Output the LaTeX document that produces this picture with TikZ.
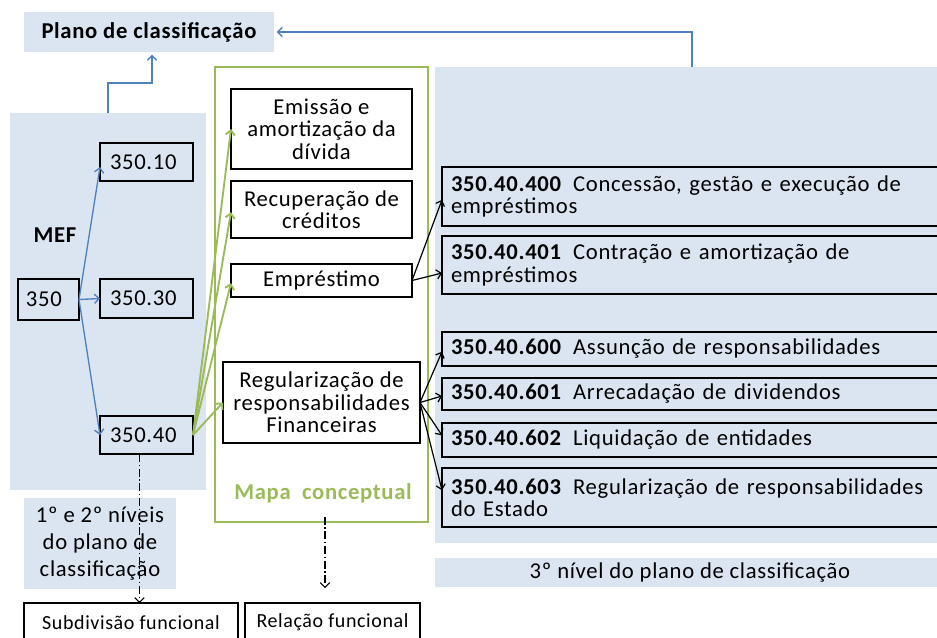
\documentclass[tikz,border=0pt]{standalone}
\usepackage{fontspec}
\setmainfont{Carlito}[LetterSpace=3]
\usetikzlibrary{arrows.meta,calc}
\definecolor{bgb}{HTML}{DBE5F1}
\definecolor{arb}{HTML}{4F81BD}
\definecolor{grn}{HTML}{9BBB59}
\newcommand\fsz{\fontsize{17pt}{16.75pt}\selectfont}
\tikzset{
  R/.style n args={4}{anchor=north west, at={(#1,#2)},
    minimum width={(#3-#1)*0.75pt}, minimum height={(#4-#2)*0.75pt},
    inner sep=0pt, outer sep=0pt},
  bx/.style={draw=black, line width=1pt},
  wbx/.style={draw=black, line width=1pt, fill=white, align=center},
  barr/.style={draw=arb, line width=1pt, -{Straight Barb[length=3.5pt,width=7pt]}},
  garr/.style={draw=grn, line width=1.4pt, -{Straight Barb[length=3.5pt,width=7pt]}},
  karr/.style={draw=black, line width=0.9pt, -{Straight Barb[length=3.5pt,width=7pt]}},
  ddarr/.style={draw=black, line width=0.8pt, dash pattern=on 6pt off 2pt on 1pt off 2pt, -{Straight Barb[length=3.5pt,width=7pt]}},
  every node/.append style={font=\fsz, text=black}
}
\begin{document}
\begin{tikzpicture}[x=0.75pt,y=-0.75pt]
\useasboundingbox (0,0) rectangle (937,637);
\clip (0,0) rectangle (937,637);
% panels
\node[R={10}{113}{206}{490}, fill=bgb] (panelL) {};
\node[R={435}{67}{945}{543}, fill=bgb] (panelR) {};
\node[R={215}{67}{428}{522}, draw=grn, line width=1.1pt] (mapa) {};
\node[R={24}{12}{274}{52}, fill=bgb, font=\fsz\bfseries] (plano) {Plano de classificação};
\node[R={435}{558}{945}{587}, fill=bgb] (lab3) {3º nível do plano de classificação};
\node[R={24}{498}{176}{589}, fill=bgb, align=center, font=\fontsize{17pt}{20pt}\selectfont] (niveis) {1º e 2º níveis\\do plano de\\classificação};
\node[font=\fsz\bfseries] (mef) at (55,235) {MEF};
\node[font=\fsz\bfseries, text=grn] (maptxt) at (323,493) {Mapa\enspace conceptual};
% left boxes
\node[bx, R={18}{279}{79}{320}, inner xsep=6pt, text width=33.75pt, align=left] (b350) {350};
\node[bx, R={100}{143}{193}{181}, inner xsep=7.5pt, text width=54.75pt, align=left] (b10) {350.10};
\node[bx, R={100}{279}{193}{318}, inner xsep=7.5pt, text width=54.75pt, align=left] (b30) {350.30};
\node[bx, R={100}{416}{193}{454}, inner xsep=7.5pt, text width=54.75pt, align=left] (b40) {350.40};
% concept boxes
\node[wbx, R={231}{89}{412}{169}] (emis) {Emissão e\\amortização da\\dívida};
\node[wbx, R={231}{181}{412}{238}] (recu) {Recuperação de\\créditos};
\node[wbx, R={231}{264}{412}{297}] (empr) {Empréstimo};
\node[wbx, R={223}{362}{420}{443}] (regu) {Regularização de\\responsabilidades\\Financeiras};
% right boxes
\tikzset{rb/.style={bx, inner xsep=6.75pt, text width=363.75pt, align=left}}
\node[rb, R={442}{167}{945}{226}] (r400) {\textbf{350.40.400}\enspace Concessão, gestão e execução de\\empréstimos};
\node[rb, R={442}{236}{945}{294}] (r401) {\textbf{350.40.401}\enspace Contração e amortização de\\empréstimos};
\node[rb, R={442}{332}{945}{366}] (r600) {\textbf{350.40.600}\enspace Assunção de responsabilidades};
\node[rb, R={442}{378}{945}{410}] (r601) {\textbf{350.40.601}\enspace Arrecadação de dividendos};
\node[rb, R={442}{423}{945}{457}] (r602) {\textbf{350.40.602}\enspace Liquidação de entidades};
\node[rb, R={442}{468}{945}{527}] (r603) {\textbf{350.40.603}\enspace Regularização de responsabilidades\\do Estado};
% bottom boxes
\node[bx, R={24}{603}{238}{642}, font=\fontsize{15pt}{17pt}\selectfont] (subd) {Subdivisão funcional};
\node[bx, R={245}{603}{420}{642}, font=\fontsize{15pt}{17pt}\selectfont] (rela) {Relação funcional};
% blue connectors
\coordinate (topR) at (692,67);
\coordinate (topL) at (108,113);
\draw[barr, shorten >=2pt] (topR) |- (plano.east);
\draw[barr, shorten >=2pt] (topL) -- ++(0,-30) -| ([xshift=2.25pt]plano.south);
\draw[barr] (b350.east) -- ([yshift=-3.75pt]b10.west);
\draw[barr] (b350.east) -- (b30.west);
\draw[barr] (b350.east) -- (b40.west);
% green connectors
\draw[garr] (b40.east) -- (emis.west);
\draw[garr] (b40.east) -- ([yshift=-2pt]recu.west);
\draw[garr] (b40.east) -- ([yshift=-2pt]empr.west);
\draw[garr] (b40.east) -- (regu.west);
% black connectors
\draw[karr] (empr.east) -- ([yshift=-2.5pt]r400.west);
\draw[karr] (empr.east) -- ([yshift=-6pt]r401.west);
\draw[karr] (regu.east) -- ([yshift=-2pt]r600.west);
\draw[karr] (regu.east) -- ([yshift=-1.5pt]r601.west);
\draw[karr] (regu.east) -- ([yshift=3.5pt]r602.west);
\draw[karr] (regu.east) -- ([yshift=5.5pt]r603.west);
% dash-dot connectors
\draw[ddarr] ([xshift=-5.25pt]b40.south) -- ([xshift=-5.25pt]b40.south |- subd.north);
\coordinate (mapend) at (325,588);
\draw[ddarr] ([yshift=-7pt]maptxt.south -| mapend) -- (mapend);
\end{tikzpicture}
\end{document}
